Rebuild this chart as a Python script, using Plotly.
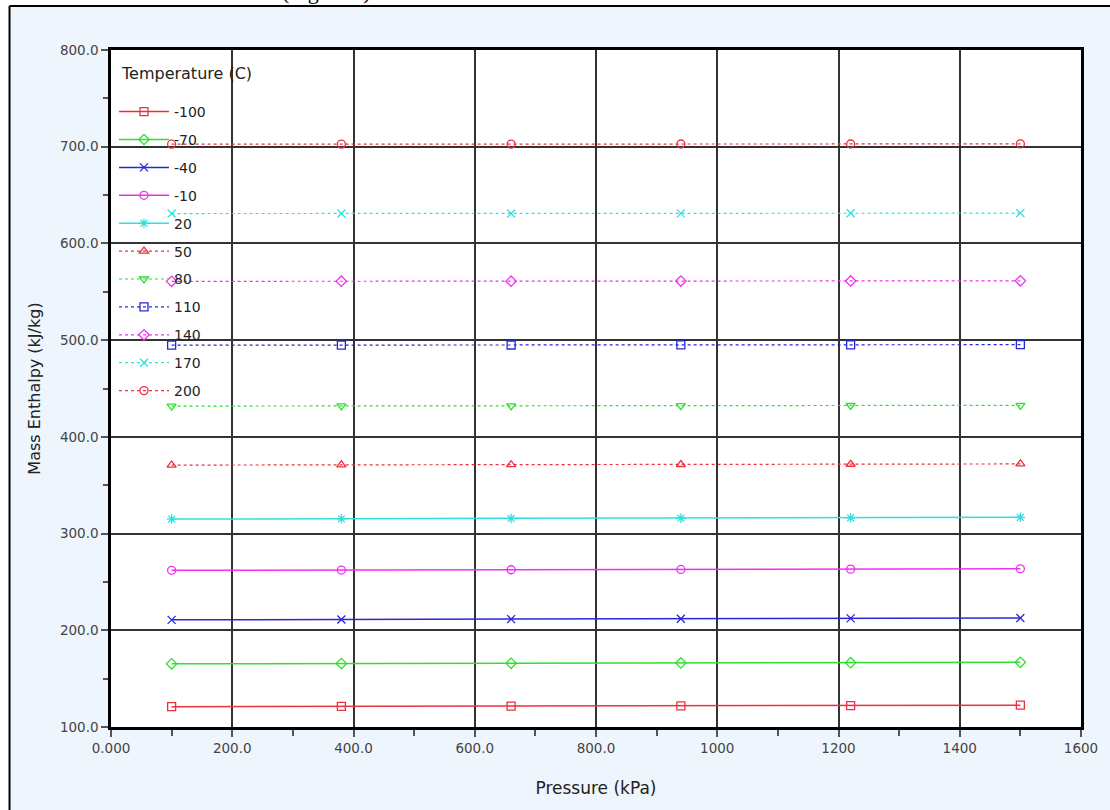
import plotly.graph_objects as go

pressure = [100, 380, 660, 940, 1220, 1500]
temperatures = ["-100", "-70", "-40", "-10", "20", "50", "80", "110", "140", "170", "200"]
h_m100 = [121.0, 121.3, 121.6, 121.9, 122.2, 122.6]
h_m70 = [165.3, 165.6, 165.9, 166.2, 166.5, 166.9]
h_m40 = [210.8, 211.1, 211.5, 211.9, 212.3, 212.7]
h_m10 = [262.0, 262.3, 262.6, 262.9, 263.2, 263.6]
h_20 = [315.0, 315.3, 315.6, 315.9, 316.3, 316.8]
h_50 = [370.8, 371.0, 371.2, 371.4, 371.7, 372.0]
h_80 = [431.8, 432.0, 432.1, 432.2, 432.4, 432.6]
h_110 = [494.8, 494.9, 495.0, 495.1, 495.2, 495.3]
h_140 = [560.8, 560.9, 561.0, 561.1, 561.2, 561.3]
h_170 = [630.9, 631.0, 631.0, 631.1, 631.2, 631.3]
h_200 = [702.6, 702.7, 702.7, 702.8, 702.8, 702.9]
series = [h_m100, h_m70, h_m40, h_m10, h_20, h_50, h_80, h_110, h_140, h_170, h_200]

x_tickvals = [0, 200, 400, 600, 800, 1000, 1200, 1400, 1600]
x_ticktext = ["0.000", "200.0", "400.0", "600.0", "800.0", "1000", "1200", "1400", "1600"]
y_tickvals = [100, 200, 300, 400, 500, 600, 700, 800]
y_ticktext = ["100.0", "200.0", "300.0", "400.0", "500.0", "600.0", "700.0", "800.0"]

colors = ["#ec3040", "#30e030", "#2828d8", "#f030f0", "#30e0e0",
          "#ec3040", "#30e030", "#2828d8", "#f030f0", "#30e0e0", "#ec3040"]
symbols = ["square-open", "diamond-open", "x-thin-open", "circle-open", "asterisk-open",
           "triangle-up-open", "triangle-down-open", "square-open", "diamond-open", "x-thin-open", "circle-open"]
dashes = ["solid"] * 5 + ["dot"] * 6

FONT = "DejaVu Sans, Verdana, sans-serif"

fig = go.Figure()
for i, (t, y) in enumerate(zip(temperatures, series)):
    fig.add_trace(go.Scatter(
        x=pressure, y=y, name=t, mode="lines+markers",
        legendgroup=t,
        line=dict(color=colors[i], width=1.5 if i < 5 else 1.2, dash=dashes[i]),
        marker=dict(symbol=symbols[i], size=8, color=colors[i],
                    line=dict(color=colors[i], width=1.3)),
    ))

W, H = 1110, 810
L, R, T, B = 111, 24, 50, 83
pw, ph = W - L - R, H - T - B

def px(x):
    return (x - L) / pw

def py(y):
    return (H - B - y) / ph

shapes = [
    dict(type="rect", xref="paper", yref="paper", x0=px(-20), x1=px(W + 20), y0=py(6), y1=py(-20),
         fillcolor="white", line=dict(width=0), layer="below"),
    dict(type="rect", xref="paper", yref="paper", x0=px(-20), x1=px(9), y0=py(H + 20), y1=py(6),
         fillcolor="white", line=dict(width=0), layer="below"),
    dict(type="line", xref="paper", yref="paper", x0=px(9), x1=px(W + 20), y0=py(6), y1=py(6),
         line=dict(color="black", width=2)),
    dict(type="line", xref="paper", yref="paper", x0=px(9), x1=px(9), y0=py(6), y1=py(H + 20),
         line=dict(color="black", width=2)),
]

fig.update_layout(
    width=W, height=H,
    margin=dict(l=L, r=R, t=T, b=B),
    paper_bgcolor="#eef5fd",
    plot_bgcolor="white",
    font=dict(family=FONT, size=12, color="#333333"),
    shapes=shapes,
    showlegend=True,
    legend=dict(
        x=px(114), y=py(96), xanchor="left", yanchor="top",
        bgcolor="rgba(0,0,0,0)", borderwidth=0,
        font=dict(family=FONT, size=14, color="#222222"),
        traceorder="grouped", tracegroupgap=6.7,
        itemwidth=50,
    ),
    annotations=[
        dict(text="Temperature (C)", xref="paper", yref="paper", x=px(119), y=py(73),
             xanchor="left", yanchor="middle", showarrow=False,
             font=dict(family=FONT, size=16, color="#222222")),
        dict(text="(Figure 1)", xref="paper", yref="paper", x=px(328), y=py(6),
             xanchor="center", yanchor="bottom", showarrow=False,
             font=dict(family="Liberation Serif, serif", size=22, color="black")),
    ],
)

fig.update_xaxes(
    range=[0, 1600], tickvals=x_tickvals, ticktext=x_ticktext,
    showline=True, linecolor="black", linewidth=2.5, mirror=True,
    showgrid=True, gridcolor="#333333", gridwidth=1.8,
    zeroline=False,
    ticks="outside", ticklen=7, tickcolor="#555555", tickwidth=1.5,
    minor=dict(ticks="outside", dtick=100, tick0=0, ticklen=6, tickcolor="#555555", showgrid=False),
    tickfont=dict(family=FONT, size=13.5, color="#444444"),
    title=dict(text="Pressure (kPa)", font=dict(family=FONT, size=17, color="#222222"), standoff=28),
)
fig.update_yaxes(
    range=[100, 800], tickvals=y_tickvals, ticktext=y_ticktext,
    showline=True, linecolor="black", linewidth=2.5, mirror=True,
    showgrid=True, gridcolor="#333333", gridwidth=1.8,
    zeroline=False,
    ticks="outside", ticklen=7, tickcolor="#555555", tickwidth=1.5,
    minor=dict(ticks="outside", dtick=50, tick0=0, ticklen=5, tickcolor="#555555", showgrid=False),
    tickfont=dict(family=FONT, size=13.5, color="#444444"),
    title=dict(text="Mass Enthalpy (kJ/kg)", font=dict(family=FONT, size=16, color="#222222"), standoff=16),
)

fig.write_html("out.html", config={"displayModeBar": False},
               post_script="document.body.style.margin='0';document.body.style.overflow='hidden';")
